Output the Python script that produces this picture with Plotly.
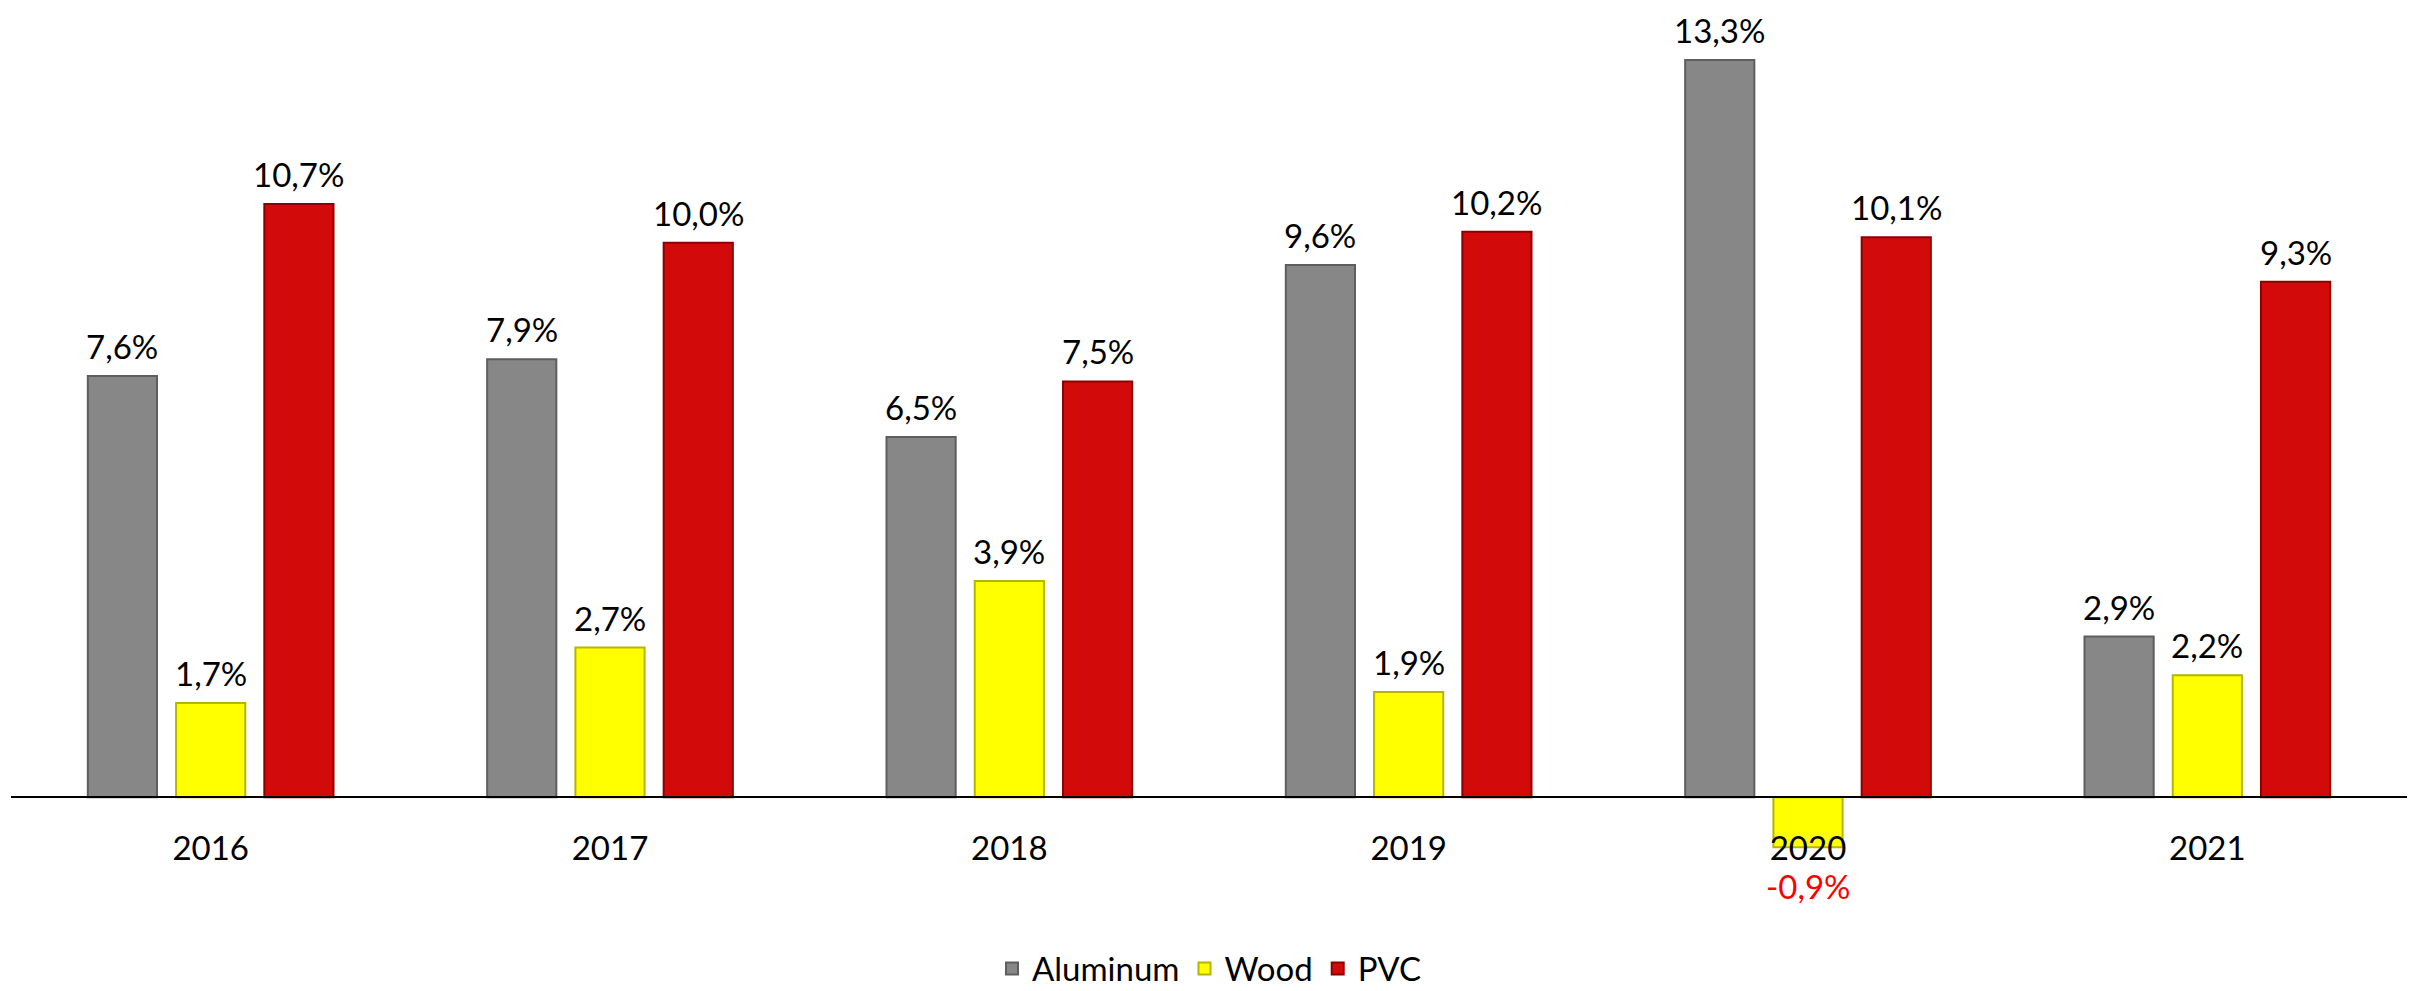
import plotly.graph_objects as go

years = ["2016", "2017", "2018", "2019", "2020", "2021"]
series_names = ["Aluminum", "Wood", "PVC"]
aluminum = [7.6, 7.9, 6.5, 9.6, 13.3, 2.9]
wood = [1.7, 2.7, 3.9, 1.9, -0.9, 2.2]
pvc = [10.7, 10.0, 7.5, 10.2, 10.1, 9.3]

fills = ["#878787", "#FFFF00", "#D20A0A"]
edges = ["#5E5E5E", "#B5B500", "#8E0000"]

FONT = "Lato, 'Open Sans', sans-serif"
FS = 33

def fmt(v):
    return f"{v:.1f}%".replace(".", ",")

fig = go.Figure()
for name, vals, fc, ec in zip(series_names, [aluminum, wood, pvc], fills, edges):
    fig.add_trace(go.Bar(
        x=years, y=vals, name=name,
        marker=dict(color=fc, line=dict(color=ec, width=2)),
        hoverinfo="skip",
    ))

# layout geometry
W, H = 2415, 991
ml, mr, mt, mb = 3, 16, 2, 90
ymin, ymax = -1.78, 14.2
plot_w = W - ml - mr
cat_w = plot_w / len(years)
bargap = 0.337
slot = cat_w * (1 - bargap) / 3
zero_pos = (0 - ymin) / (ymax - ymin)

annotations = []
for i, vals in enumerate([aluminum, wood, pvc]):
    xs = (i - 1) * slot
    for k, v in enumerate(vals):
        if v >= 0:
            annotations.append(dict(
                x=k, y=v, xref="x", yref="y", text=fmt(v), showarrow=False,
                xshift=xs, yshift=9, yanchor="bottom", xanchor="center", borderpad=0,
                font=dict(family=FONT, size=FS, color="black"),
            ))
        else:
            annotations.append(dict(
                x=k, y=0, xref="x", yref="y", text=fmt(v), showarrow=False,
                xshift=xs, yshift=-68, yanchor="top", xanchor="center", borderpad=0,
                font=dict(family=FONT, size=FS, color="#FF0000"),
            ))

fig.update_layout(
    width=W, height=H,
    margin=dict(l=ml, r=mr, t=mt, b=mb),
    paper_bgcolor="white", plot_bgcolor="white",
    barmode="group", bargap=bargap, bargroupgap=0.216,
    font=dict(family=FONT, size=FS, color="black"),
    showlegend=True,
    legend=dict(orientation="h", x=0.5, xanchor="center", y=-0.082, yanchor="middle",
                font=dict(family=FONT, size=FS, color="black"), itemwidth=30),
    xaxis=dict(
        type="category", categoryorder="array", categoryarray=years,
        range=[-0.5, len(years) - 0.5], autorange=False,
        anchor="free", position=zero_pos, showline=True, linecolor="black", linewidth=2,
        ticks="", showgrid=False, zeroline=False, ticklabelstandoff=22,
        tickfont=dict(family=FONT, size=FS, color="black"), layer="above traces",
    ),
    yaxis=dict(range=[ymin, ymax], autorange=False, visible=False, showgrid=False, zeroline=False),
    annotations=annotations,
)

fig.write_html("out.html")
